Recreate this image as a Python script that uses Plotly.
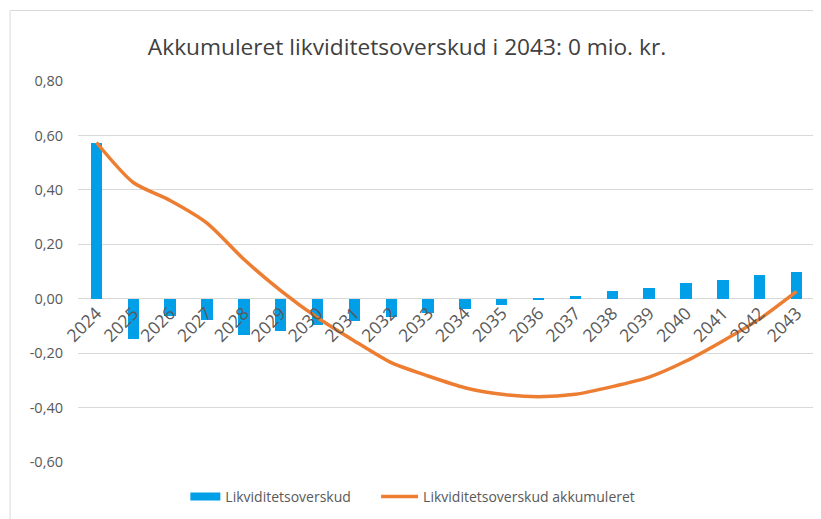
import plotly.graph_objects as go

years = [str(y) for y in range(2024, 2044)]
overskud = [0.574, -0.147, -0.063, -0.080, -0.133, -0.117, -0.098, -0.082, -0.069, -0.052,
            -0.036, -0.022, -0.006, 0.010, 0.027, 0.039, 0.057, 0.070, 0.087, 0.100]
akkumuleret = [0.574, 0.427, 0.361, 0.278, 0.145, 0.030, -0.070, -0.155, -0.235, -0.284,
               -0.327, -0.351, -0.360, -0.351, -0.323, -0.288, -0.229, -0.155, -0.074, 0.027]
ytick_vals = [0.8, 0.6, 0.4, 0.2, 0.0, -0.2, -0.4, -0.6]
ytick_text = ["0,80", "0,60", "0,40", "0,20", "0,00", "-0,20", "-0,40", "-0,60"]

W, H = 821, 519
OFF = 8  # page body offset in the browser
# target screen positions of plot area: x 77.5..815.5, y 81..462
ML = 77.5 - OFF
MR = W - (815.5 - OFF)
MT = 81 - OFF
MB = H - (462 - OFF)
PW, PH = W - ML - MR, H - MT - MB

FONT = "Open Sans"
GRAY = "#595959"
BLUE = "#009FE8"
ORANGE = "#ED7D31"


def px_x(p):
    return (p - OFF - ML) / PW


def px_y(p):
    return (H - MB - (p - OFF)) / PH


fig = go.Figure()
fig.add_trace(go.Bar(x=years, y=overskud, name="Likviditetsoverskud", showlegend=False,
                     marker=dict(color=BLUE, line=dict(width=0)), width=0.31))
fig.add_trace(go.Scatter(x=years, y=akkumuleret, name="Likviditetsoverskud akkumuleret",
                         mode="lines", showlegend=False,
                         line=dict(color=ORANGE, width=3.5, shape="spline", smoothing=0.7)))
# legend entries (no marks drawn)
fig.add_trace(go.Scatter(x=[None], y=[None], name="Likviditetsoverskud", mode="lines",
                         line=dict(color=BLUE, width=8), legend="legend"))
fig.add_trace(go.Scatter(x=[None], y=[None], name="Likviditetsoverskud akkumuleret",
                         mode="lines", line=dict(color=ORANGE, width=3.5), legend="legend2"))

leg_common = dict(orientation="h", xanchor="left", y=px_y(497), yanchor="middle",
                  font=dict(size=14, color=GRAY), bgcolor="rgba(0,0,0,0)")

fig.update_layout(
    width=W, height=H,
    margin=dict(l=ML, r=MR, t=MT, b=MB, autoexpand=False),
    paper_bgcolor="white", plot_bgcolor="white",
    font=dict(family=FONT, color=GRAY, size=13),
    title=dict(text="Akkumuleret likviditetsoverskud i 2043: 0 mio. kr.",
               x=(407 - OFF) / W, xanchor="center", y=1 - (47 - OFF) / H, yanchor="middle",
               font=dict(family=FONT, size=22.7, color="#404040")),
    showlegend=True,
    legend=dict(x=px_x(185), itemwidth=30, **leg_common),
    legend2=dict(x=px_x(376), itemwidth=37, **leg_common),
    bargap=0,
    xaxis=dict(type="category", range=[-0.5, 19.5], anchor="free", position=0.6 / 1.4,
               showgrid=False, showline=False, ticks="", tickangle=-45,
               tickfont=dict(size=17.5, color=GRAY)),
    yaxis=dict(range=[-0.6, 0.8], tickvals=ytick_vals, ticktext=ytick_text,
               showgrid=True, gridcolor="#D9D9D9", gridwidth=1,
               zeroline=True, zerolinecolor="#D9D9D9", zerolinewidth=1,
               ticks="", ticklabelstandoff=14, tickfont=dict(size=14.5, color=GRAY)),
    shapes=[
        dict(type="line", xref="paper", yref="paper", x0=px_x(9.5), x1=px_x(W + 20),
             y0=px_y(10.5), y1=px_y(10.5), line=dict(color="#D9D9D9", width=1)),
        dict(type="line", xref="paper", yref="paper", x0=px_x(9.5), x1=px_x(9.5),
             y0=px_y(10.5), y1=px_y(H + 20), line=dict(color="#D9D9D9", width=1)),
    ],
)

fig.write_html("out.html")
